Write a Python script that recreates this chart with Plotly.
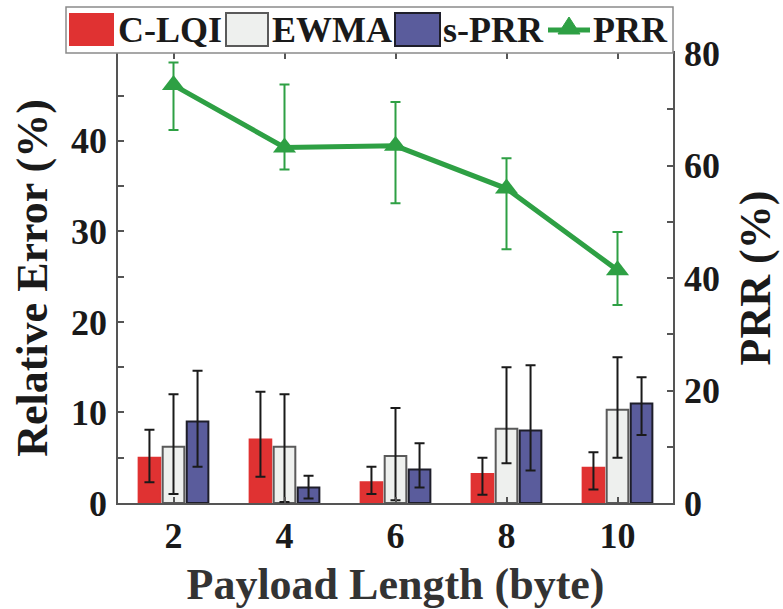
import plotly.graph_objects as go

# ---------------- data ----------------
payload = [2, 4, 6, 8, 10]

clqi = [5.0, 7.0, 2.3, 3.2, 3.9]
clqi_plus = [3.1, 5.3, 1.7, 1.8, 1.7]
clqi_minus = [2.7, 4.1, 1.3, 2.3, 2.4]

ewma = [6.2, 6.2, 5.2, 8.2, 10.3]
ewma_plus = [5.8, 5.8, 5.3, 6.8, 5.8]
ewma_minus = [5.2, 6.1, 4.9, 3.8, 5.3]

sprr = [9.0, 1.7, 3.7, 8.0, 11.0]
sprr_plus = [5.6, 1.3, 2.9, 7.2, 2.9]
sprr_minus = [5.0, 1.2, 2.0, 4.4, 3.5]

prr = [74.3, 63.2, 63.5, 55.9, 41.4]
prr_plus = [4.0, 11.2, 7.8, 5.4, 6.8]
prr_minus = [8.0, 3.9, 10.2, 10.8, 6.2]

legend_names = ["C-LQI", "EWMA", "s-PRR", "PRR"]

# ---------------- styles ----------------
RED = "#E03232"
GRAY_FILL = "#EEF0EE"
GRAY_EDGE = "#5a5a5a"
BLUE = "#5A5C9C"
BLUE_EDGE = "#1e1e2a"
GREEN = "#2EA044"
AXIS = "#555555"
TXT = "#1a1a1a"
FONT = "Times New Roman, Liberation Serif, Tinos, DejaVu Serif, serif"

W, H = 783, 609
L, R, T, B = 118, 673, 53, 503  # plot area in pixels

fig = go.Figure()

bar_specs = [
    (legend_names[0], clqi, clqi_plus, clqi_minus, RED, RED),
    (legend_names[1], ewma, ewma_plus, ewma_minus, GRAY_FILL, GRAY_EDGE),
    (legend_names[2], sprr, sprr_plus, sprr_minus, BLUE, BLUE_EDGE),
]
for name, vals, plus, minus, fill, edge in bar_specs:
    fig.add_trace(go.Bar(
        x=payload, y=vals, name=name, showlegend=False,
        marker=dict(color=fill, line=dict(color=edge, width=2)),
        error_y=dict(type="data", symmetric=False, array=plus, arrayminus=minus,
                     color="#1a1a1a", thickness=2, width=5),
    ))

fig.add_trace(go.Scatter(
    x=payload, y=prr, name=legend_names[3], yaxis="y2", showlegend=False,
    mode="lines+markers",
    line=dict(color=GREEN, width=5),
    marker=dict(symbol="triangle-up", size=20, color=GREEN),
    error_y=dict(type="data", symmetric=False, array=prr_plus, arrayminus=prr_minus,
                 color=GREEN, thickness=2, width=5),
))

# ---------------- custom legend (MATLAB-like) ----------------
def px_x(p):
    return (p - L) / (R - L)

def px_y(p):
    return (B - p) / (B - T)

shapes = []
annotations = []
shapes.append(dict(type="rect", xref="paper", yref="paper",
                   x0=px_x(66), x1=px_x(673), y0=px_y(53), y1=px_y(7),
                   line=dict(color="#8a8a8a", width=1.5), fillcolor="white", layer="above"))
swatches = [
    (69, 114, RED, RED, 0),
    (226, 268, GRAY_FILL, GRAY_EDGE, 2),
    (395, 440, BLUE, BLUE_EDGE, 2),
]
for x0, x1, fill, edge, lw in swatches:
    shapes.append(dict(type="rect", xref="paper", yref="paper",
                       x0=px_x(x0), x1=px_x(x1), y0=px_y(46), y1=px_y(13),
                       fillcolor=fill, line=dict(color=edge, width=lw), layer="above"))
shapes.append(dict(type="line", xref="paper", yref="paper",
                   x0=px_x(548), x1=px_x(590), y0=px_y(30), y1=px_y(30),
                   line=dict(color=GREEN, width=5), layer="above"))
shapes.append(dict(type="path", xref="paper", yref="paper",
                   path=f"M {px_x(558)},{px_y(34)} L {px_x(580)},{px_y(34)} L {px_x(569)},{px_y(17)} Z",
                   fillcolor=GREEN, line=dict(color=GREEN, width=1), layer="above"))

text_x = [116, 270, 441, 591]
for name, tx in zip(legend_names, text_x):
    annotations.append(dict(xref="paper", yref="paper", x=px_x(tx), y=px_y(30),
                            xanchor="left", yanchor="middle", showarrow=False,
                            text=name, font=dict(family=FONT, size=36, color=TXT, weight="bold")))

fig.update_layout(
    width=W, height=H,
    margin=dict(l=L, r=W - R, t=T, b=H - B, autoexpand=False),
    paper_bgcolor="white", plot_bgcolor="white",
    font=dict(family=FONT, size=36, color=TXT, weight="bold"),
    barmode="group", bargap=0.35, bargroupgap=0.1,
    showlegend=False,
    shapes=shapes, annotations=annotations,
    xaxis=dict(
        range=[1, 11], tickvals=payload, ticktext=[str(v) for v in payload],
        ticks="inside", ticklen=6, tickcolor=AXIS, tickwidth=1.5,
        showline=True, linecolor=AXIS, linewidth=1.5, mirror="ticks",
        showgrid=False, zeroline=False, ticklabelstandoff=0,
        title=dict(text="Payload Length (byte)", standoff=14,
                   font=dict(family=FONT, size=44, color="#333333", weight="bold")),
    ),
    yaxis=dict(
        range=[0, 49.7], dtick=10, tick0=0,
        ticks="inside", ticklen=6, tickcolor=AXIS, tickwidth=1.5,
        minor=dict(dtick=5, ticks="inside", ticklen=6, tickcolor=AXIS, tickwidth=1.5),
        showline=True, linecolor=AXIS, linewidth=1.5,
        showgrid=False, zeroline=False, ticklabelstandoff=2,
        title=dict(text="Relative Error (%)", standoff=10,
                   font=dict(family=FONT, size=44, color=TXT, weight="bold")),
    ),
    yaxis2=dict(
        overlaying="y", side="right",
        range=[0, 80], dtick=20, tick0=0,
        ticks="inside", ticklen=6, tickcolor=AXIS, tickwidth=1.5,
        minor=dict(dtick=10, ticks="inside", ticklen=6, tickcolor=AXIS, tickwidth=1.5),
        showline=True, linecolor=AXIS, linewidth=1.5,
        showgrid=False, zeroline=False, ticklabelstandoff=2,
        title=dict(text="PRR (%)", standoff=20,
                   font=dict(family=FONT, size=44, color=TXT, weight="bold")),
    ),
)

fig.write_html("out.html")
